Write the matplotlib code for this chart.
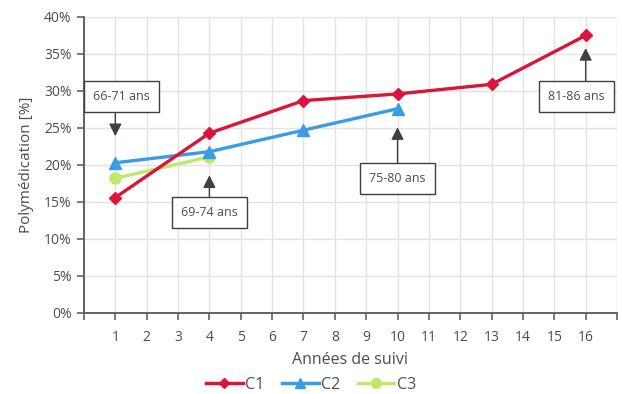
import matplotlib
matplotlib.use("Agg")
import matplotlib.pyplot as plt
from matplotlib.lines import Line2D

plt.rcParams['font.family'] = ['Open Sans', 'DejaVu Sans']

# Follow-up years (categorical axis positions 1..16)
years = list(range(1, 17))
year_labels = [str(y) for y in years]

# Polypharmacy share (%) per cohort at the follow-up years observed
c1_years = [1, 4, 7, 10, 13, 16]
c1_values = [15.6, 24.3, 28.7, 29.6, 30.9, 37.5]
c2_years = [1, 4, 7, 10]
c2_values = [20.3, 21.8, 24.7, 27.6]
c3_years = [1, 4]
c3_values = [18.2, 21.1]

series_names = ["C1", "C2", "C3"]

# Age-range callouts: text, year, arrow tip (%), box centre (%), box x shift
callout_texts = ["66-71 ans", "69-74 ans", "75-80 ans", "81-86 ans"]
callout_years = [1, 4, 10, 16]
callout_tips = [23.9, 18.6, 25.1, 35.8]
callout_boxes = [29.2, 13.6, 18.2, 29.2]
callout_xoffs = [0.2, 0.0, 0.0, -0.3]

red = "#dc143c"
blue = "#3a9be6"
green = "#bfe86c"
grid_col = "#e2e4e4"
axis_col = "#5f6366"
text_col = "#4d4d4d"
dark = "#3b4045"

fig = plt.figure(figsize=(6.22, 3.94), dpi=100)
ax = fig.add_axes([0.135, 0.2056, 0.857, 0.7513])

ax.set_xlim(0, 17)
ax.set_ylim(0, 40)

ax.set_xticks(range(0, 18))
ax.set_xticklabels([""] + year_labels + [""])
ax.set_yticks(range(0, 41, 5))
ax.set_yticklabels([f"{v}%" for v in range(0, 41, 5)])

ax.grid(True, color=grid_col, linewidth=1.0, zorder=0)
ax.set_axisbelow(True)
for s in ["top", "right"]:
    ax.spines[s].set_visible(False)
for s in ["left", "bottom"]:
    ax.spines[s].set_color(axis_col)
    ax.spines[s].set_linewidth(1.4)
ax.tick_params(axis="both", colors=axis_col, length=5, width=1.2,
               labelcolor=text_col, labelsize=10)
ax.tick_params(axis="x", pad=7)
ax.tick_params(axis="y", pad=4)

ax.set_xlabel("Années de suivi", fontsize=11.5, color=text_col, labelpad=5)
ax.set_ylabel("Polymédication [%]", fontsize=11, color=text_col, labelpad=7)

ax.plot(c1_years, c1_values, color=red, lw=2.4, marker="D", ms=6,
        zorder=5, label=series_names[0], clip_on=False)
ax.plot(c2_years, c2_values, color=blue, lw=2.4, marker="^", ms=8,
        zorder=4, label=series_names[1], clip_on=False)
ax.plot(c3_years, c3_values, color=green, lw=2.4, marker="o", ms=8,
        zorder=3, label=series_names[2], clip_on=False)

# half box height in data units (about 13.5 px)
half_h = 13.5 / (0.7513 * 394) * 40
for txt, yr, tip, box, dx in zip(callout_texts, callout_years, callout_tips,
                                 callout_boxes, callout_xoffs):
    ax.text(yr + dx, box, txt, ha="center", va="center", fontsize=9,
            color=text_col, zorder=7,
            bbox=dict(boxstyle="square,pad=0.72", fc="white", ec=dark, lw=1.0))
    start = box + half_h if tip > box else box - half_h
    ax.annotate("", xy=(yr, tip), xytext=(yr, start),
                arrowprops=dict(arrowstyle="-|>,head_length=0.75,head_width=0.38",
                                color=dark, lw=1.0, shrinkA=0, shrinkB=0),
                zorder=6)

handles = [
    Line2D([], [], color=red, lw=2.5, marker="D", ms=5),
    Line2D([], [], color=blue, lw=2.5, marker="^", ms=7),
    Line2D([], [], color=green, lw=2.5, marker="o", ms=7),
]
fig.legend(handles, series_names, loc="center", bbox_to_anchor=(0.5, 0.023),
           ncol=3, frameon=False, fontsize=11.5, labelcolor=text_col,
           handlelength=2.3, handletextpad=0.15, columnspacing=1.1,
           borderpad=0.1)

fig.savefig("out.png", dpi=100)
